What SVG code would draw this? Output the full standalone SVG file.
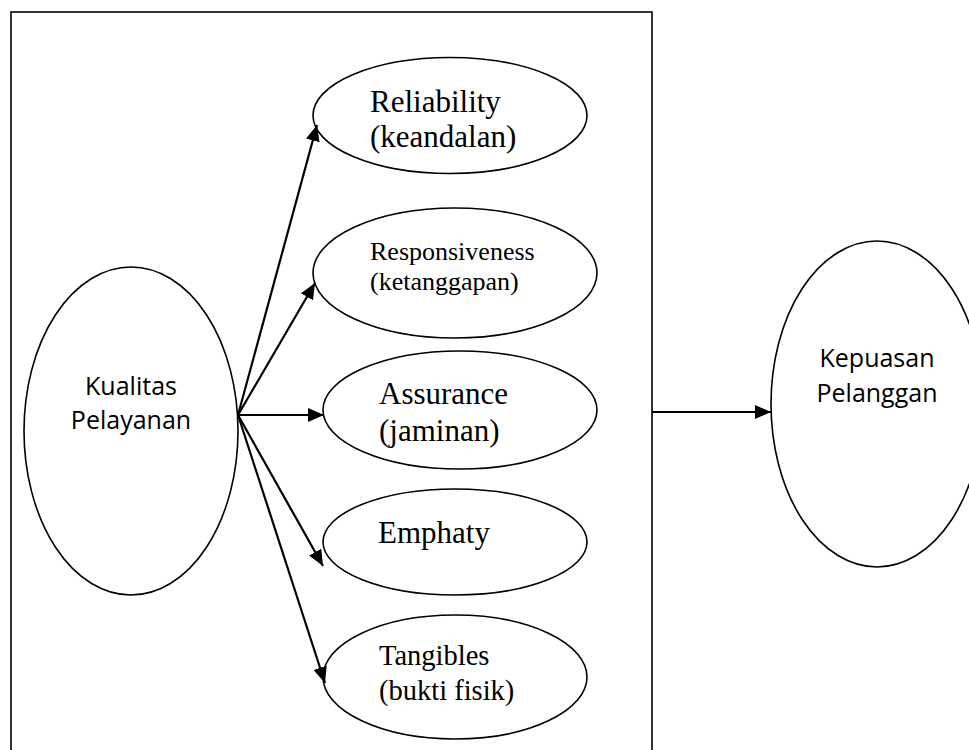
<svg xmlns="http://www.w3.org/2000/svg" width="969" height="750" viewBox="0 0 969 750">
<defs>
<style>
.sh{fill:#fff;stroke:#000;stroke-width:1.6}
.box{fill:none;stroke:#000;stroke-width:1.6}
.ln{stroke:#000;stroke-width:2.2;fill:none;marker-end:url(#ah)}
.serif{font-family:"Liberation Serif","Times New Roman",serif;fill:#000}
.sans{font-family:"Open Sans","Noto Sans","Liberation Sans",sans-serif;fill:#000;font-size:25px;text-anchor:middle}
</style>
<marker id="ah" viewBox="0 0 10 10" refX="10" refY="5" markerWidth="16" markerHeight="14" markerUnits="userSpaceOnUse" orient="auto" preserveAspectRatio="none">
<path d="M0,0 L10,5 L0,10 z" fill="#000"/>
</marker>
</defs>
<rect class="box" x="11" y="12" width="641" height="760"/>
<g id="kualitas">
<ellipse class="sh" cx="131" cy="431" rx="107" ry="164"/>
<text class="sans" x="131" y="395">Kualitas</text>
<text class="sans" x="131" y="429">Pelayanan</text>
</g>
<g id="reliability">
<ellipse class="sh" cx="450" cy="115.5" rx="137" ry="58"/>
<text class="serif" font-size="31" x="370" y="112">Reliability</text>
<text class="serif" font-size="31" x="370" y="147">(keandalan)</text>
</g>
<g id="responsiveness">
<ellipse class="sh" cx="455" cy="273" rx="142" ry="65"/>
<text class="serif" font-size="26" x="370" y="260">Responsiveness</text>
<text class="serif" font-size="26" x="370" y="290">(ketanggapan)</text>
</g>
<g id="assurance">
<ellipse class="sh" cx="460" cy="410" rx="137" ry="59"/>
<text class="serif" font-size="31" x="379" y="404">Assurance</text>
<text class="serif" font-size="31" x="379" y="441">(jaminan)</text>
</g>
<g id="emphaty">
<ellipse class="sh" cx="455" cy="542" rx="132" ry="53"/>
<text class="serif" font-size="31" x="378" y="543">Emphaty</text>
</g>
<g id="tangibles">
<ellipse class="sh" cx="455" cy="677" rx="132" ry="62"/>
<text class="serif" font-size="28.5" x="379" y="665">Tangibles</text>
<text class="serif" font-size="28.5" x="379" y="700">(bukti fisik)</text>
</g>
<g id="kepuasan">
<ellipse class="sh" cx="877" cy="404" rx="106" ry="163"/>
<text class="sans" x="877" y="367">Kepuasan</text>
<text class="sans" x="877" y="402">Pelanggan</text>
</g>
<g id="connectors">
<path class="ln" d="M238,415 L317,125"/>
<path class="ln" d="M238,415 L315,283"/>
<path class="ln" d="M238,415 L324,415"/>
<path class="ln" d="M238,415 L323,566"/>
<path class="ln" d="M238,415 L325,683"/>
<path class="ln" d="M652,412 L771,412"/>
</g>
</svg>
